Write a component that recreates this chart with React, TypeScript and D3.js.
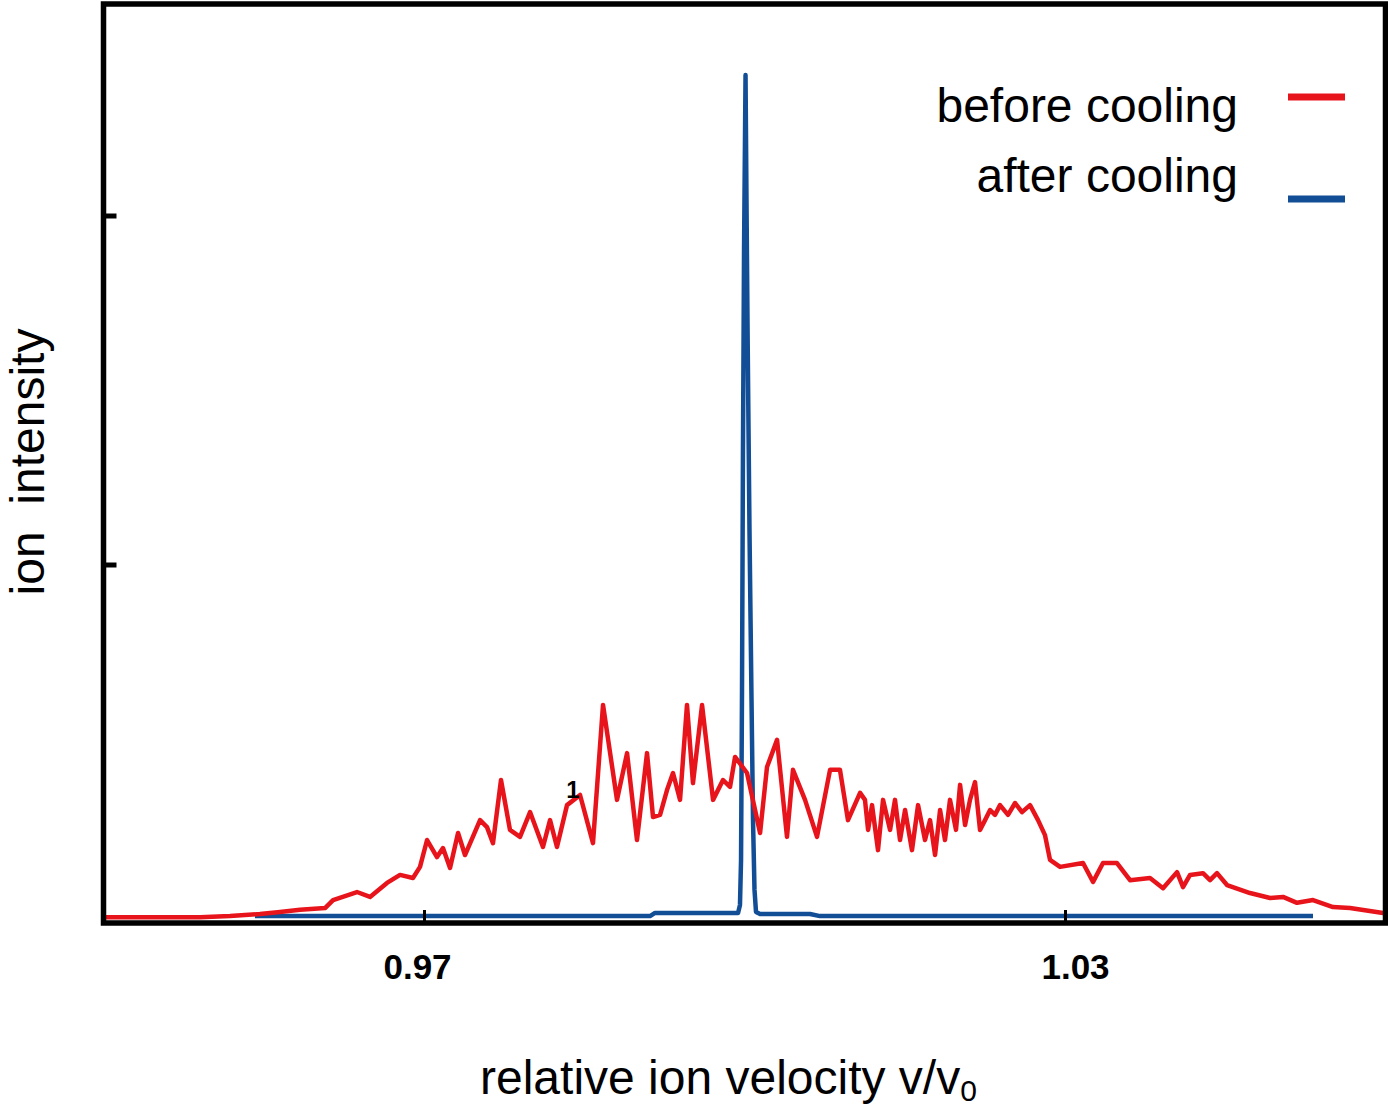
import React from "react";
import * as d3 from "d3";

// ---- data ----
const redV = [
  0.94, 0.94431, 0.94899, 0.95179, 0.9546, 0.95647, 0.95835, 0.96069, 0.96144, 0.96368,
  0.9649, 0.96649, 0.96771, 0.96892, 0.96958, 0.97024, 0.97117, 0.97173, 0.97239, 0.97314,
  0.97379, 0.9752, 0.97585, 0.97641, 0.97716, 0.978, 0.97894, 0.97988, 0.98109, 0.98175,
  0.9824, 0.98334, 0.98456, 0.98577, 0.98671, 0.98802, 0.98896, 0.98989, 0.99083, 0.99139,
  0.99205, 0.9927, 0.99326, 0.99392, 0.99457, 0.99513, 0.99598, 0.99701, 0.99794, 0.9986,
  0.99907, 1.00019, 1.00141, 1.00206, 1.003, 1.00393, 1.00449, 1.00562, 1.00674, 1.00796,
  1.00889, 1.00964, 1.01077, 1.01123, 1.01152, 1.01189, 1.01245, 1.01292, 1.01358, 1.01404,
  1.01451, 1.01498, 1.01563, 1.0162, 1.01685, 1.01732, 1.01779, 1.01826, 1.01872, 1.01919,
  1.01975, 1.02013, 1.0206, 1.02106, 1.02153, 1.022, 1.02247, 1.02294, 1.0234, 1.02387,
  1.02462, 1.02528, 1.02593, 1.02668, 1.02743, 1.02808, 1.02855, 1.02949, 1.03164, 1.03258,
  1.03351, 1.03482, 1.03604, 1.03791, 1.03913, 1.04044, 1.041, 1.04166, 1.04287, 1.04353,
  1.04418, 1.04512, 1.04727, 1.04915, 1.05036, 1.05167, 1.05317, 1.05504, 1.05663, 1.05972,
  1.06,
];
const redI = [
  -0.009, -0.009, -0.009, -0.006, 0.0, 0.006, 0.012, 0.017, 0.04, 0.063,
  0.049, 0.089, 0.112, 0.103, 0.135, 0.212, 0.163, 0.189, 0.132, 0.232,
  0.169, 0.269, 0.249, 0.203, 0.384, 0.241, 0.221, 0.292, 0.192, 0.269,
  0.192, 0.312, 0.341, 0.203, 0.599, 0.327, 0.461, 0.212, 0.461, 0.278,
  0.284, 0.355, 0.404, 0.327, 0.599, 0.375, 0.599, 0.327, 0.384, 0.364,
  0.45, 0.404, 0.232, 0.421, 0.499, 0.221, 0.413, 0.327, 0.221, 0.413,
  0.413, 0.269, 0.347, 0.327, 0.241, 0.312, 0.183, 0.327, 0.241, 0.327,
  0.212, 0.298, 0.183, 0.312, 0.212, 0.269, 0.169, 0.298, 0.212, 0.327,
  0.241, 0.37, 0.255, 0.327, 0.378, 0.241, 0.269, 0.298, 0.284, 0.312,
  0.284, 0.318, 0.292, 0.312, 0.269, 0.226, 0.155, 0.135, 0.146, 0.092,
  0.146, 0.146, 0.097, 0.103, 0.074, 0.12, 0.077, 0.112, 0.117, 0.097,
  0.117, 0.083, 0.06, 0.046, 0.049, 0.032, 0.04, 0.02, 0.017, 0.003,
  0.003,
];
const blueV = [
  0.95413, 0.99111, 0.99158, 0.99935, 0.99953, 0.99963, 0.99972, 0.99981, 0.99991, 1.00005,
  1.00014, 1.00024, 1.00033, 1.00042, 1.00052, 1.00061, 1.00075, 1.00089, 1.00103, 1.00141,
  1.00609, 1.00702, 1.05317,
];
const blueI = [
  -0.006, -0.006, 0.003, 0.003, 0.026, 0.155, 0.642, 1.33, 1.903, 2.404,
  2.046, 1.673, 1.387, 1.1, 0.842, 0.613, 0.269, 0.069, 0.006, 0.0,
  0.0, -0.006, -0.006,
];
const xTicks = [0.97, 1.03];
const xTickLabels = ["0.97", "1.03"];
const yTicks = [1, 2];
const seriesNames = ["before cooling", "after cooling"];
const seriesColors = ["#e8141b", "#124e96"];

const W = 1388;
const H = 1107;
const FONT = "'Liberation Sans', Arial, sans-serif";

export default function App() {
  const x = d3.scaleLinear().domain([0.94, 1.06]).range([104, 1386]);
  const y = d3.scaleLinear().domain([0, 2]).range([914, 216]);
  const plotTop = 4;
  const plotBottom = 923;
  const plotLeft = 103.5;
  const plotRight = 1385.5;

  const red = redV.map((v, i) => [v, redI[i]] as [number, number]);
  const blue = blueV.map((v, i) => [v, blueI[i]] as [number, number]);
  const line = d3
    .line<[number, number]>()
    .x((d) => x(d[0]))
    .y((d) => y(d[1]));

  const labelDx = [-7, 10];

  return (
    <svg
      width={W}
      height={H}
      style={{ position: "absolute", left: 0, top: 0, background: "#fff" }}
      fontFamily={FONT}
    >
      <defs>
        <clipPath id="plotclip">
          <rect x={plotLeft} y={plotTop} width={plotRight - plotLeft} height={plotBottom - plotTop - 3} />
        </clipPath>
      </defs>
      <rect x={0} y={0} width={W} height={H} fill="#fff" />

      <g clipPath="url(#plotclip)">
        <path d={line(blue) || ""} fill="none" stroke={seriesColors[1]} strokeWidth={4.5} strokeLinejoin="round" />
        <path d={line(red) || ""} fill="none" stroke={seriesColors[0]} strokeWidth={4.5} strokeLinejoin="round" />
      </g>

      {/* stray label */}
      <text x={573} y={798} fontSize={24} fontWeight="bold" textAnchor="middle" fill="#000">
        1
      </text>

      {/* frame */}
      <rect
        x={plotLeft}
        y={plotTop}
        width={plotRight - plotLeft}
        height={plotBottom - plotTop}
        fill="none"
        stroke="#000"
        strokeWidth={5.5}
      />

      {/* y ticks */}
      {yTicks.map((t) => (
        <line key={t} x1={plotLeft} x2={plotLeft + 13} y1={y(t)} y2={y(t)} stroke="#000" strokeWidth={5} />
      ))}

      {/* x ticks */}
      {xTicks.map((t, i) => (
        <g key={t}>
          <line x1={x(t)} x2={x(t)} y1={plotBottom} y2={plotBottom - 13} stroke="#000" strokeWidth={3} />
          <text
            x={x(t) + labelDx[i]}
            y={979}
            fontSize={35}
            fontWeight="bold"
            textAnchor="middle"
            fill="#000"
          >
            {xTickLabels[i]}
          </text>
        </g>
      ))}

      {/* axis titles */}
      <text x={480} y={1094} fontSize={48} fill="#000">
        relative ion velocity v/v
        <tspan fontSize={30} dy={7}>0</tspan>
      </text>
      <text
        transform="translate(44,462) rotate(-90)"
        fontSize={48}
        textAnchor="middle"
        fill="#000"
        style={{ whiteSpace: "pre" }}
      >
        {"ion  intensity"}
      </text>

      {/* legend */}
      {seriesNames.map((n, i) => (
        <g key={n}>
          <text x={1238} y={122 + i * 70} fontSize={48} textAnchor="end" fill="#000">
            {n}
          </text>
          <line
            x1={1288}
            x2={1345}
            y1={i === 0 ? 97 : 199}
            y2={i === 0 ? 97 : 199}
            stroke={seriesColors[i]}
            strokeWidth={7}
          />
        </g>
      ))}
    </svg>
  );
}
